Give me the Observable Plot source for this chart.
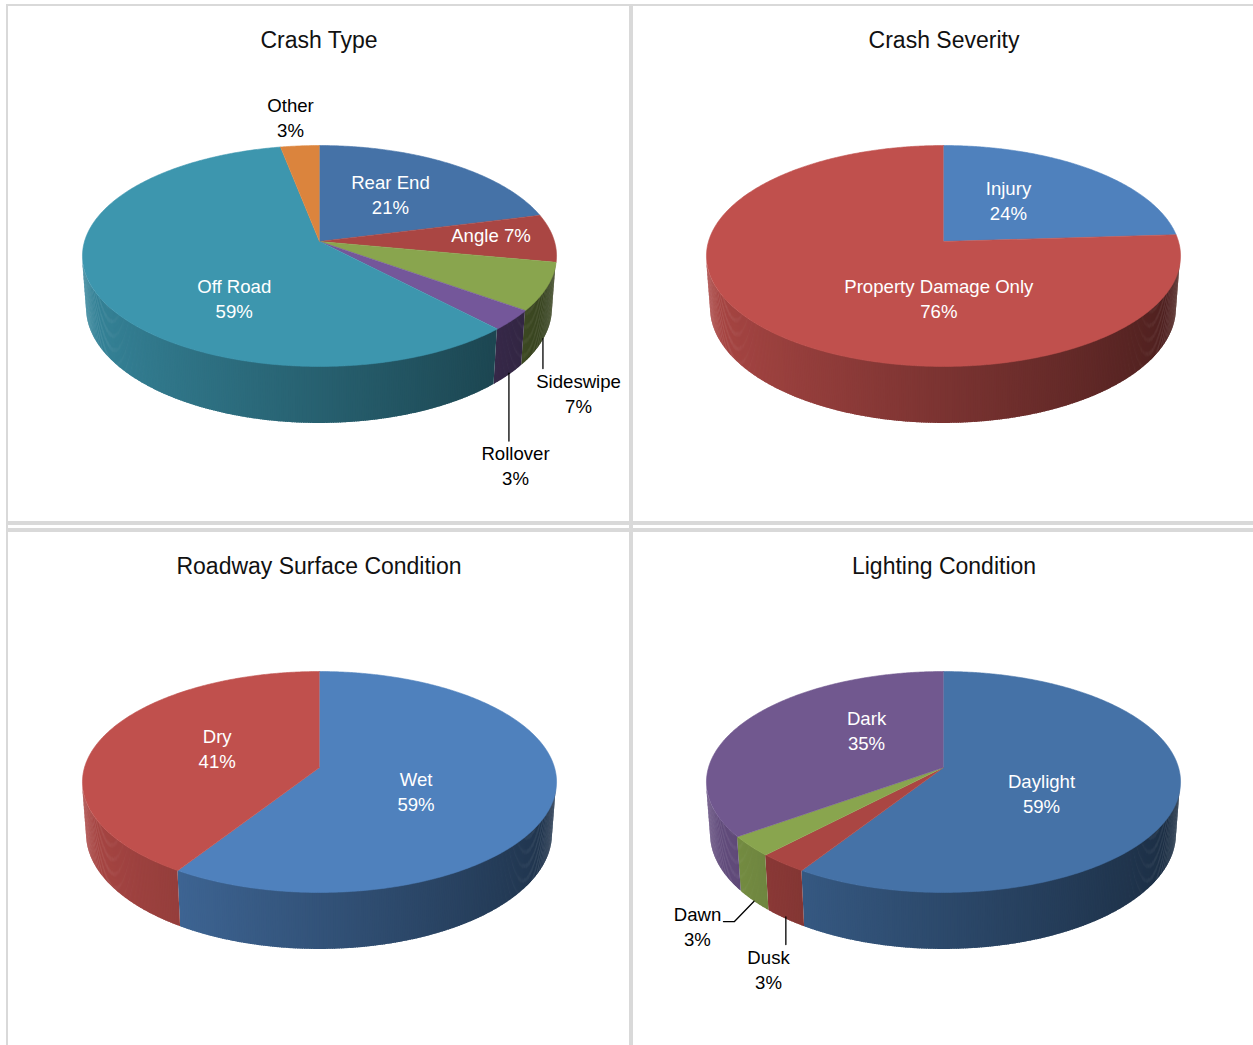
<!DOCTYPE html>
<html>
<head>
<meta charset="utf-8">
<script src="https://cdn.jsdelivr.net/npm/d3@7"></script>
<script src="https://cdn.jsdelivr.net/npm/@observablehq/plot@0.6"></script>
<style>
  body { margin: 0; background: #fff; }
  #page { position: relative; width: 1253px; height: 1045px; overflow: hidden; background: #fff; }
  .rule { position: absolute; background: #d9d9d9; }
  .panel { position: absolute; }
</style>
</head>
<body>
<div id="page"></div>
<script>
// ---- Data -------------------------------------------------------------
const crashTypeLabels = ["Rear End", "Angle", "Sideswipe", "Rollover", "Off Road", "Other"];
const crashTypeShares = [21, 7, 7, 3, 59, 3];

const severityLabels = ["Injury", "Property Damage Only"];
const severityShares = [24, 76];

const surfaceLabels = ["Wet", "Dry"];
const surfaceShares = [59, 41];

const lightingLabels = ["Daylight", "Dusk", "Dawn", "Dark"];
const lightingShares = [59, 3, 3, 35];

// ---- Styling ----------------------------------------------------------
const crashTypeColors = ["#4572A7", "#AA4643", "#89A54E", "#74579A", "#3D96AE", "#DB843D"];
const severityColors = ["#4F81BD", "#C0504D"];
const surfaceColors = ["#4F81BD", "#C0504D"];
const lightingColors = ["#4572A7", "#AA4643", "#89A54E", "#71588F"];

// Label placement: offset (px) from the slice's anchor point.
// anchor "inside" = mid-angle at half radius on the top face,
// "rim" = mid-angle on the top rim, "base" = mid-angle on the bottom rim.
const crashTypeLayout = {
  "Rear End":  {anchor: "inside", dx: 2.5, dy: -7.2},
  "Angle":     {anchor: "inside", dx: 54.3, dy: -5.3, inline: true},
  "Sideswipe": {anchor: "base", dx: 35.6, dy: 51.4, leader: "drop"},
  "Rollover":  {anchor: "base", dx: 6.6, dy: 89.3, leader: "drop"},
  "Off Road":  {anchor: "inside", dx: 22.6, dy: 30.9},
  "Other":     {anchor: "rim", dx: -9.4, dy: -29.4}
};
const severityLayout = {
  "Injury":               {anchor: "inside", dx: -11.8, dy: -4.2},
  "Property Damage Only": {anchor: "inside", dx: 79.8, dy: 14.7}
};
const surfaceLayout = {
  "Wet": {anchor: "inside", dx: -18.4, dy: 7.9},
  "Dry": {anchor: "inside", dx: 8.5, dy: -5.3}
};
const lightingLayout = {
  "Daylight": {anchor: "inside", dx: -16.9, dy: 9.1},
  "Dusk":     {anchor: "base", dx: -17.3, dy: 49, leader: "drop"},
  "Dawn":     {anchor: "base", dx: -56.6, dy: 24.3, leader: "elbow"},
  "Dark":     {anchor: "inside", dx: 24.7, dy: -14.1}
};

// ---- 3-D view of a unit-radius pie disc --------------------------------
const VIEW = {f: 1588, D: 6.758, sinA: 0.462, cosA: 0.8869, depth: 0.2526};
const STEP = Math.PI / 360;

// theta: clockwise from the far side (12 o'clock); r: radius fraction; h: height (0 = top face)
function project(theta, r, h) {
  const x = r * Math.sin(theta), d = r * Math.cos(theta);
  const yc = h * VIEW.cosA + d * VIEW.sinA;
  const zc = VIEW.D + d * VIEW.cosA - h * VIEW.sinA;
  return [VIEW.f * x / zc, -VIEW.f * yc / zc];
}

// side walls are lit from the left
function wallShade(color, theta) {
  const k = 0.64 - 0.25 * Math.sin(theta);
  const c = d3.rgb(color);
  return d3.rgb(c.r * k, c.g * k, c.b * k).formatHex();
}

function fontAvailable(name) {
  const ctx = document.createElement("canvas").getContext("2d");
  const sample = "Property Damage Only 0123456789%";
  ctx.font = "40px monospace";
  const a = ctx.measureText(sample).width;
  ctx.font = `40px "${name}", monospace`;
  const b = ctx.measureText(sample).width;
  return Math.abs(a - b) > 0.5;
}

const narrow = fontAvailable("Liberation Sans Narrow");
const LABEL_FONT = narrow ? '"Liberation Sans Narrow", "Arial Narrow", sans-serif' : '"Liberation Sans", Arial, sans-serif';
const LABEL_SIZE = narrow ? 22 : 18.6;
const TITLE_FONT = '"Liberation Sans", Arial, sans-serif';

const W = 621, H = 515;

function pieChart({title, labels, shares, colors, layout, cx, cy}) {
  const total = d3.sum(shares);
  let acc = 0;
  const slices = labels.map((name, i) => {
    const a0 = acc / total * 2 * Math.PI;
    acc += shares[i];
    const a1 = acc / total * 2 * Math.PI;
    return {name, share: shares[i], color: colors[i], a0, a1, mid: (a0 + a1) / 2};
  });

  // top faces
  const faces = [];
  for (const s of slices) {
    faces.push({key: s.name, x: 0, y: 0, fill: s.color});
    const n = Math.max(2, Math.ceil((s.a1 - s.a0) / STEP));
    for (let j = 0; j <= n; j++) {
      const [x, y] = project(s.a0 + (s.a1 - s.a0) * j / n, 1, 0);
      faces.push({key: s.name, x, y, fill: s.color});
    }
  }

  // visible part of the outer wall, in thin overlapping strips so the shading is smooth
  const lo = Math.acos(-1 / (VIEW.D * VIEW.cosA)), hi = 2 * Math.PI - lo;
  const walls = [];
  for (const s of slices) {
    const b0 = Math.max(s.a0, lo), b1 = Math.min(s.a1, hi);
    if (b1 <= b0) continue;
    const n = Math.max(1, Math.ceil((b1 - b0) / STEP));
    for (let j = 0; j < n; j++) {
      const t0 = b0 + (b1 - b0) * j / n;
      const t1 = Math.min(b1, b0 + (b1 - b0) * (j + 1) / n + STEP * 0.6);
      const fill = wallShade(s.color, (t0 + t1) / 2);
      for (const t of [t0, t1]) {
        const [x1, y1] = project(t, 1, 0);
        const [x2, y2] = project(t, 1, -VIEW.depth);
        walls.push({key: `${s.name}-${j}`, x1, y1, x2, y2, fill});
      }
    }
  }

  // labels and leader lines
  const texts = [], leaders = [];
  for (const s of slices) {
    const L = layout[s.name];
    const [ax, ay] = L.anchor === "inside" ? project(s.mid, 0.5, 0)
      : L.anchor === "rim" ? project(s.mid, 1, 0)
      : project(s.mid, 1, -VIEW.depth);
    const lx = ax + L.dx, ly = ay + L.dy;
    texts.push({
      x: lx, y: ly,
      text: L.inline ? `${s.name} ${s.share}%` : `${s.name}\n${s.share}%`,
      fill: L.anchor === "inside" ? "#ffffff" : "#000000"
    });
    if (L.leader === "drop") {
      leaders.push({key: s.name, x: ax, y: ay - 2});
      leaders.push({key: s.name, x: ax, y: ly - 23.5});
    } else if (L.leader === "elbow") {
      leaders.push({key: s.name, x: ax, y: ay});
      leaders.push({key: s.name, x: lx + 37, y: ly - 4});
      leaders.push({key: s.name, x: lx + 26, y: ly - 4});
    }
  }

  return Plot.plot({
    width: W, height: H, margin: 0,
    style: {background: "transparent", overflow: "visible"},
    x: {domain: [-cx, W - cx], range: [0, W], axis: null},
    y: {domain: [-cy, H - cy], range: [0, H], axis: null},
    color: {type: "identity"},
    marks: [
      Plot.area(walls, {x1: "x1", y1: "y1", x2: "x2", y2: "y2", z: "key", fill: "fill"}),
      Plot.line(faces, {x: "x", y: "y", z: "key", fill: "fill", stroke: "fill", strokeWidth: 0.6, curve: "linear"}),
      Plot.line(leaders, {x: "x", y: "y", z: "key", stroke: "#000", strokeWidth: 1.3}),
      Plot.text(texts, {x: "x", y: "y", text: "text", fill: "fill", fontSize: LABEL_SIZE, fontFamily: LABEL_FONT, lineHeight: 25 / LABEL_SIZE, lineAnchor: "middle", textAnchor: "middle"}),
      Plot.text([title], {frameAnchor: "top", dy: 34, text: d => d, fill: "#111", fontSize: 23, fontFamily: TITLE_FONT, lineAnchor: "middle", textAnchor: "middle"})
    ]
  });
}

// ---- Page layout --------------------------------------------------------
const page = document.getElementById("page");
function rule(left, top, width, height) {
  const d = document.createElement("div");
  d.className = "rule";
  Object.assign(d.style, {left: left + "px", top: top + "px", width: width + "px", height: height + "px"});
  page.appendChild(d);
}
rule(6, 4, 1247, 2);
rule(6, 4, 2, 1041);
rule(629, 4, 4, 1041);
rule(6, 521, 1247, 4);
rule(6, 528, 1247, 4);

const panels = [
  {left: 8, top: 6, cx: 311, cy: 235, title: "Crash Type", labels: crashTypeLabels, shares: crashTypeShares, colors: crashTypeColors, layout: crashTypeLayout},
  {left: 633, top: 6, cx: 310, cy: 235, title: "Crash Severity", labels: severityLabels, shares: severityShares, colors: severityColors, layout: severityLayout},
  {left: 8, top: 532, cx: 311, cy: 235, title: "Roadway Surface Condition", labels: surfaceLabels, shares: surfaceShares, colors: surfaceColors, layout: surfaceLayout},
  {left: 633, top: 532, cx: 310, cy: 235, title: "Lighting Condition", labels: lightingLabels, shares: lightingShares, colors: lightingColors, layout: lightingLayout}
];
for (const p of panels) {
  const div = document.createElement("div");
  div.className = "panel";
  Object.assign(div.style, {left: p.left + "px", top: p.top + "px", width: W + "px", height: H + "px"});
  div.appendChild(pieChart(p));
  page.appendChild(div);
}
</script>
</body>
</html>
